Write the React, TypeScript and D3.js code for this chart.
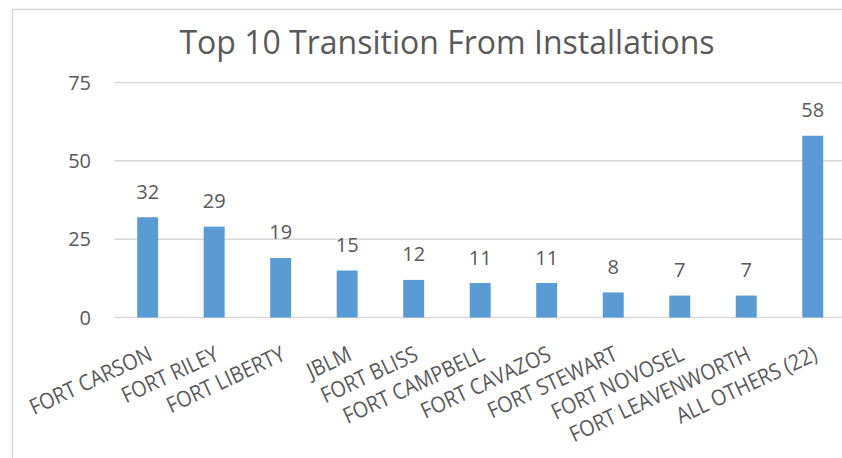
import React from "react";
import * as d3 from "d3";

const categories = [
  "FORT CARSON",
  "FORT RILEY",
  "FORT LIBERTY",
  "JBLM",
  "FORT BLISS",
  "FORT CAMPBELL",
  "FORT CAVAZOS",
  "FORT STEWART",
  "FORT NOVOSEL",
  "FORT LEAVENWORTH",
  "ALL OTHERS (22)",
];
const values = [32, 29, 19, 15, 12, 11, 11, 8, 7, 7, 58];
const yTicks = [0, 25, 50, 75];
const title = "Top 10 Transition From Installations";

const W = 842;
const H = 458;
const FONT = "'Open Sans', sans-serif";
const TEXT = "#595959";
const GRID = "#d9d9d9";
const BAR = "#5B9BD5";

export default function App() {
  const x = d3
    .scaleBand<string>()
    .domain(categories)
    .range([114.4, 846])
    .paddingInner(0.685)
    .paddingOuter(0.3425);
  const y = d3.scaleLinear().domain([0, 75]).range([317.5, 82.5]);

  return (
    <svg
      width={W}
      height={H}
      style={{ position: "absolute", left: 0, top: 0, background: "#fff" }}
      fontFamily={FONT}
    >
      <rect x={0} y={0} width={W} height={H} fill="#fff" />
      <rect x={12.5} y={9.5} width={W + 10} height={H + 10} fill="none" stroke={GRID} strokeWidth={1.5} />
      <text x={447} y={54} textAnchor="middle" fontSize={32} fill={TEXT}>
        {title}
      </text>
      {yTicks.map((t) => (
        <g key={t}>
          <line x1={114.4} x2={W} y1={y(t)} y2={y(t)} stroke={GRID} strokeWidth={1.5} />
          <text x={91} y={y(t)} dy="0.36em" textAnchor="end" fontSize={20} fill={TEXT}>
            {t}
          </text>
        </g>
      ))}
      {categories.map((c, i) => {
        const bx = x(c)!;
        const cx = bx + x.bandwidth() / 2;
        return (
          <g key={c}>
            <rect x={bx} y={y(values[i])} width={x.bandwidth()} height={y(0) - y(values[i])} fill={BAR} />
            <text x={cx} y={y(values[i]) - 18.5} textAnchor="middle" fontSize={20} fill={TEXT}>
              {values[i]}
            </text>
            <text
              transform={`translate(${cx + 6},${359.5}) rotate(-25) scale(0.9,1)`}
              textAnchor="end"
              fontSize={22}
              fill={TEXT}
            >
              {c}
            </text>
          </g>
        );
      })}
    </svg>
  );
}
